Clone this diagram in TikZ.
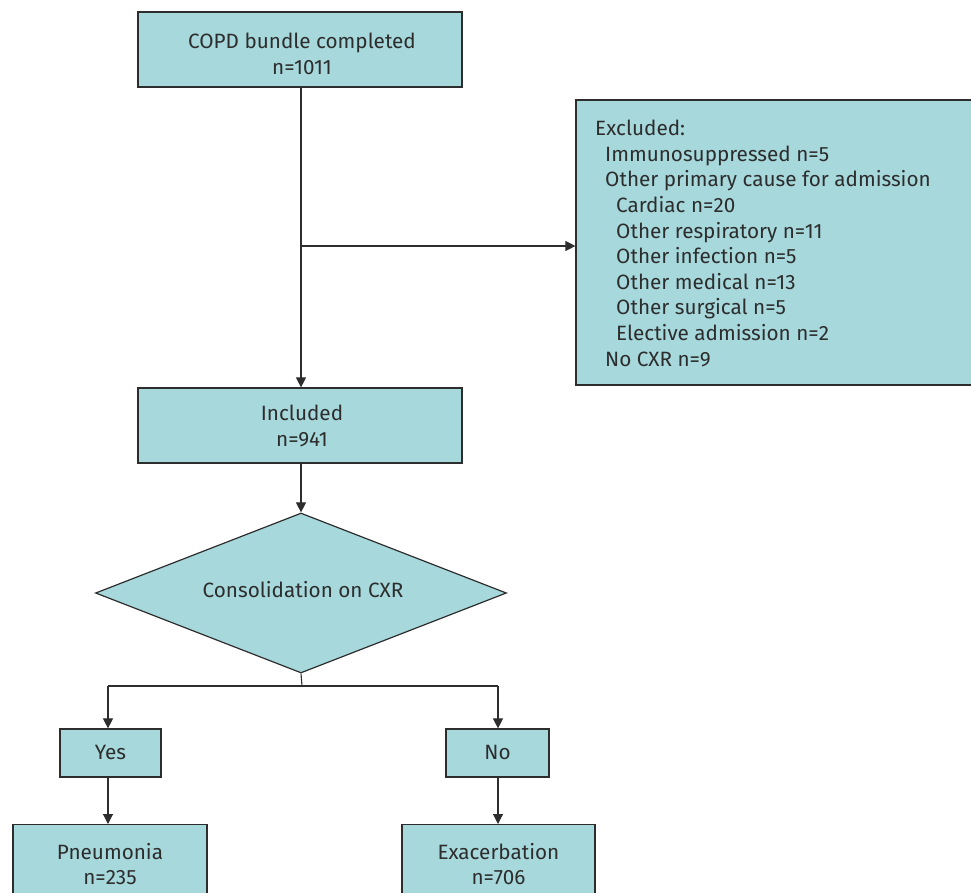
\documentclass[tikz,border=0pt]{standalone}
\usepackage{fontspec}
\setmainfont{Fira Sans}
\usetikzlibrary{shapes.geometric,arrows.meta}
\definecolor{boxfill}{RGB}{166,216,220}
\definecolor{ink}{RGB}{45,45,45}
\begin{document}
\begin{tikzpicture}[x=1pt,y=-1pt,
  every node/.style={font=\fontsize{20.7}{25.6}\selectfont, text=ink, align=center},
  box/.style={draw=ink, line width=1.2pt, fill=boxfill, rectangle, inner sep=0pt, align=center},
  dia/.style={draw=ink, line width=1.2pt, fill=boxfill, diamond, inner sep=0pt, aspect=2.56},
  conn/.style={draw=ink, line width=1.1pt},
  arr/.style={conn, -{Triangle[length=10pt,width=10pt]}}]
\useasboundingbox (0,0) rectangle (971,893);
\clip (0,0) rectangle (971,893);
\node[box, minimum width=324pt, minimum height=75pt] (top) at (300,49.5) {};
\node (topt) at (302,54) {COPD bundle completed\\n=1011};
\node[box, minimum width=420pt, minimum height=285pt] (excl) at (786,242.5) {};
\node[anchor=north west, align=left, inner sep=0pt] (exclt) at (595,120)
 {Excluded:\\
 \hspace*{10pt}Immunosuppressed n=5\\
 \hspace*{10pt}Other primary cause for admission\\
 \hspace*{21pt}Cardiac n=20\\
 \hspace*{21pt}Other respiratory n=11\\
 \hspace*{21pt}Other infection n=5\\
 \hspace*{21pt}Other medical n=13\\
 \hspace*{21pt}Other surgical n=5\\
 \hspace*{21pt}Elective admission n=2\\
 \hspace*{10pt}No CXR n=9};
\node[box, minimum width=324pt, minimum height=75pt] (incl) at (300,425.5) {};
\node (inclt) at (302,426) {Included\\n=941};
\node[dia, minimum width=411pt, minimum height=160pt] (cons) at (301,593) {};
\node (const) at (303,590) {Consolidation on CXR};
\node[box, minimum width=101pt, minimum height=48pt] (yes) at (110.5,753) {};
\node (yest) at (110.5,752) {Yes};
\node[box, minimum width=103pt, minimum height=48pt] (no) at (497.5,753) {};
\node (not) at (497.5,752) {No};
\node[box, minimum width=194pt, minimum height=82pt, anchor=north] (pneu) at (110,824) {};
\node (pneut) at (110,864) {Pneumonia\\n=235};
\node[box, minimum width=193pt, minimum height=82pt, anchor=north] (exac) at (498.5,824) {};
\node (exact) at (498.5,864) {Exacerbation\\n=706};
\coordinate (branch) at (301,246);
\coordinate (split) at (302,686);
\coordinate (sl) at (108,686);
\coordinate (sr) at (498,686);
\draw[arr] (top.south -| branch) -- (incl.north -| branch);
\draw[arr] (branch) -- (branch -| excl.west);
\draw[arr] (incl.south -| branch) -- (cons.north);
\draw[conn] (cons.south) -- (split);
\draw[conn] (sl) -- (sr);
\draw[arr] (sl) -- (yes.north -| sl);
\draw[arr] (sr) -- (no.north -| sr);
\draw[arr] (yes.south -| sl) -- (pneu.north -| sl);
\draw[arr] (no.south -| sr) -- (exac.north -| sr);
\end{tikzpicture}
\end{document}
